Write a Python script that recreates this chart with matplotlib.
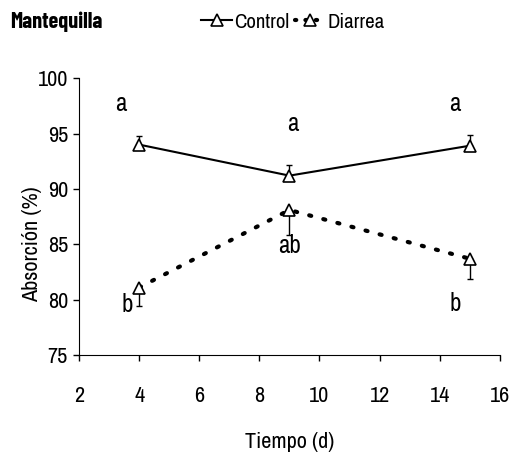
import matplotlib
matplotlib.use('Agg')
from matplotlib import pyplot as plt

plt.rcParams['font.family'] = ['Archivo Narrow', 'DejaVu Sans']

# data
dias = [4, 9, 15]
control = [94.0, 91.2, 93.9]
control_err = [0.8, 1.0, 1.0]
diarrea = [81.1, 88.1, 83.7]
diarrea_err = [1.7, 2.3, 1.8]

# significance letters (x, y, text)
letras_x = [3.4, 9.1, 14.5, 3.6, 9.0, 14.5]
letras_y = [97.7, 95.9, 97.7, 79.6, 84.9, 79.7]
letras = ['a', 'a', 'a', 'b', 'ab', 'b']

fig = plt.figure(figsize=(5.1, 4.57), dpi=100)
ax = fig.add_axes([0.155, 0.223, 0.825, 0.606])

# error bars: control upwards, diarrea downwards
ax.errorbar(dias, control, yerr=[[0, 0, 0], control_err], fmt='none',
            ecolor='black', elinewidth=1, capsize=2.5, capthick=1)
ax.errorbar(dias, diarrea, yerr=[diarrea_err, [0, 0, 0]], fmt='none',
            ecolor='black', elinewidth=1, capsize=2.5, capthick=1)

l1, = ax.plot(dias, control, '-', color='black', lw=1.5, marker='^',
              markersize=8, markerfacecolor='white', markeredgecolor='black',
              markeredgewidth=1.2, label='Control')
l2, = ax.plot(dias, diarrea, linestyle=(0, (0.5, 3)), color='black', lw=3,
              dash_capstyle='round', marker='^', markersize=8,
              markerfacecolor='white', markeredgecolor='black',
              markeredgewidth=1.2, label='Diarrea')

for x, y, t in zip(letras_x, letras_y, letras):
    ax.text(x, y, t, ha='center', va='center', fontsize=18)

ax.set_xlim(2, 16)
ax.set_ylim(75, 100)
ax.set_xticks(range(2, 17, 2))
ax.set_yticks(range(75, 101, 5))
ax.spines['top'].set_visible(False)
ax.spines['right'].set_visible(False)
ax.tick_params(labelsize=16, length=4, width=1)
ax.tick_params(axis='x', pad=18)
ax.tick_params(axis='y', pad=4)
ax.set_xlabel('Tiempo (d)', fontsize=16, labelpad=19)
ax.set_ylabel('Absorción (%)', fontsize=16, labelpad=4)
ax.yaxis.set_label_coords(-0.088, 0.40)

fig.text(10 / 510, 1 - 22 / 457, 'Mantequilla', fontsize=16, fontweight='bold',
         family=['Barlow Condensed', 'DejaVu Sans'], ha='left', va='center')
leg = fig.legend(handles=[l1, l2], loc='center left',
                 bbox_to_anchor=(201 / 510, 1 - 22 / 457),
                 ncol=2, frameon=False, fontsize=15, handlelength=1.5,
                 handletextpad=0.1, columnspacing=0.25, borderpad=0, borderaxespad=0)
leg.get_lines()[1].set_linestyle((0, (0.3, 2.2)))

fig.savefig('out.png', dpi=100)
